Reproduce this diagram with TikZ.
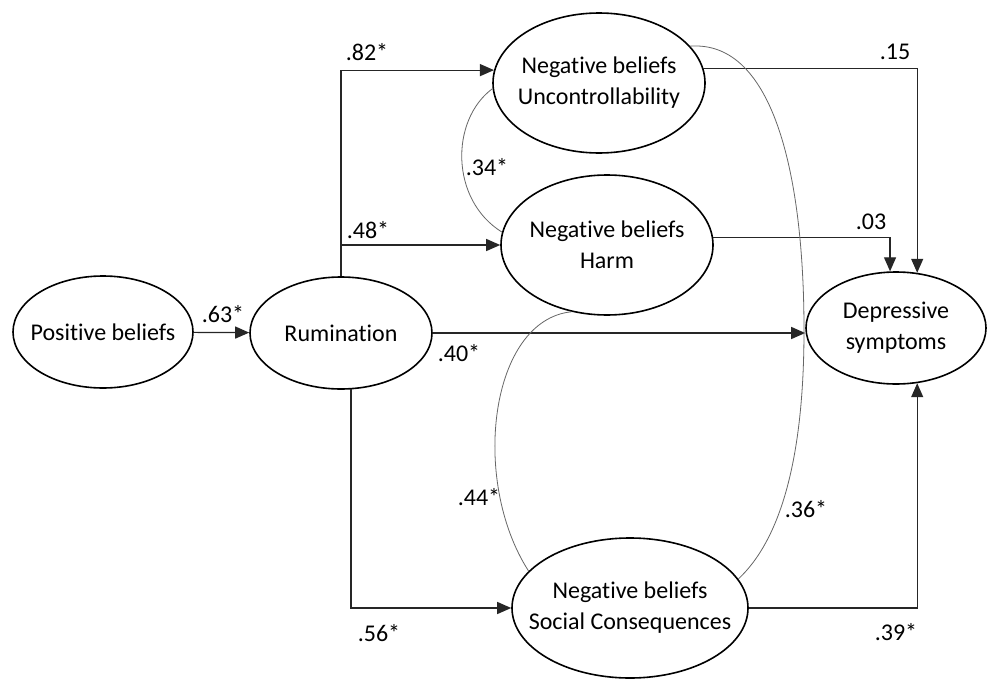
\documentclass[tikz,border=0pt]{standalone}
\usepackage{fontspec}
\setmainfont{Carlito}[Ligatures={NoCommon}]
\usetikzlibrary{arrows.meta,shapes.geometric,calc}
\newcommand{\zw}[1]{\makebox[0pt]{#1}}

\begin{document}
\begin{tikzpicture}[x=1pt,y=-1pt,
	latent/.style={ellipse,draw,line width=1.6pt,inner sep=0pt,align=center,font=\fontsize{24}{31}\selectfont},
	effect/.style={-{Triangle[length=14pt,width=12pt]},line width=1.2pt,draw=black!85},
	cov/.style={line width=0.8pt,draw=black!60},
	coef/.style={inner sep=0pt,font=\fontsize{24}{31}\selectfont}]
	\useasboundingbox (0,0) rectangle (988,680);
	\node[latent,minimum width=180pt,minimum height=112pt] (pos) at (103,332) {\zw{Positive beliefs}};
	\node[latent,minimum width=182pt,minimum height=112pt] (rum) at (341,333) {\zw{Rumination}};
	\node[latent,minimum width=212pt,minimum height=140pt] (unc) at (599,83) {\zw{Negative beliefs}\\\zw{Uncontrollability}};
	\node[latent,minimum width=212pt,minimum height=140pt] (harm) at (607,245) {\zw{Negative beliefs}\\\zw{Harm}};
	\node[latent,minimum width=236pt,minimum height=140pt] (soc) at (630,608) {\zw{Negative beliefs}\\\zw{Social Consequences}};
	\node[latent,minimum width=180pt,minimum height=112pt] (dep) at (896,328) {\zw{Depressive}\\\zw{symptoms}};

	\draw[effect] (pos) -- (rum);
	\draw[effect] (rum.north) |- (unc.173);
	\draw[effect] (rum.north |- harm.west) -- (harm.west);
	\draw[effect] (rum.east) -- (rum.east -| dep.west);
	\draw[effect] (rum.-80) |- (soc.west);
	\draw[effect] (unc.8) -| (dep.69);
	\draw[effect] (harm.4) -| (dep.96);
	\draw[effect] (soc.east) -| (dep.-69);

	\draw[cov] (unc.183) .. controls (450,120) and (450,200) .. (harm.173);
	\draw[cov] (harm.-118) .. controls (490,320) and (470,480) .. (soc.160);
	\draw[cov] (unc.22) .. controls (775,40) and (804,180) .. (804,330) .. controls (804,460) and (780,540) .. (soc.15);

	\node[coef] (c63) at (223,314) {.63*};
	\node[coef] (c82) at (367,52) {.82*};
	\node[coef] (c48) at (368,230) {.48*};
	\node[coef] (c40) at (459,353) {.40*};
	\node[coef] (c56) at (379,633) {.56*};
	\node[coef] (c15) at (895,52) {.15};
	\node[coef] (c03) at (871,222) {.03};
	\node[coef] (c39) at (896,632) {.39*};
	\node[coef] (c34) at (487,167) {.34*};
	\node[coef] (c44) at (479,497) {.44*};
	\node[coef] (c36) at (806,509) {.36*};
\end{tikzpicture}
\end{document}
